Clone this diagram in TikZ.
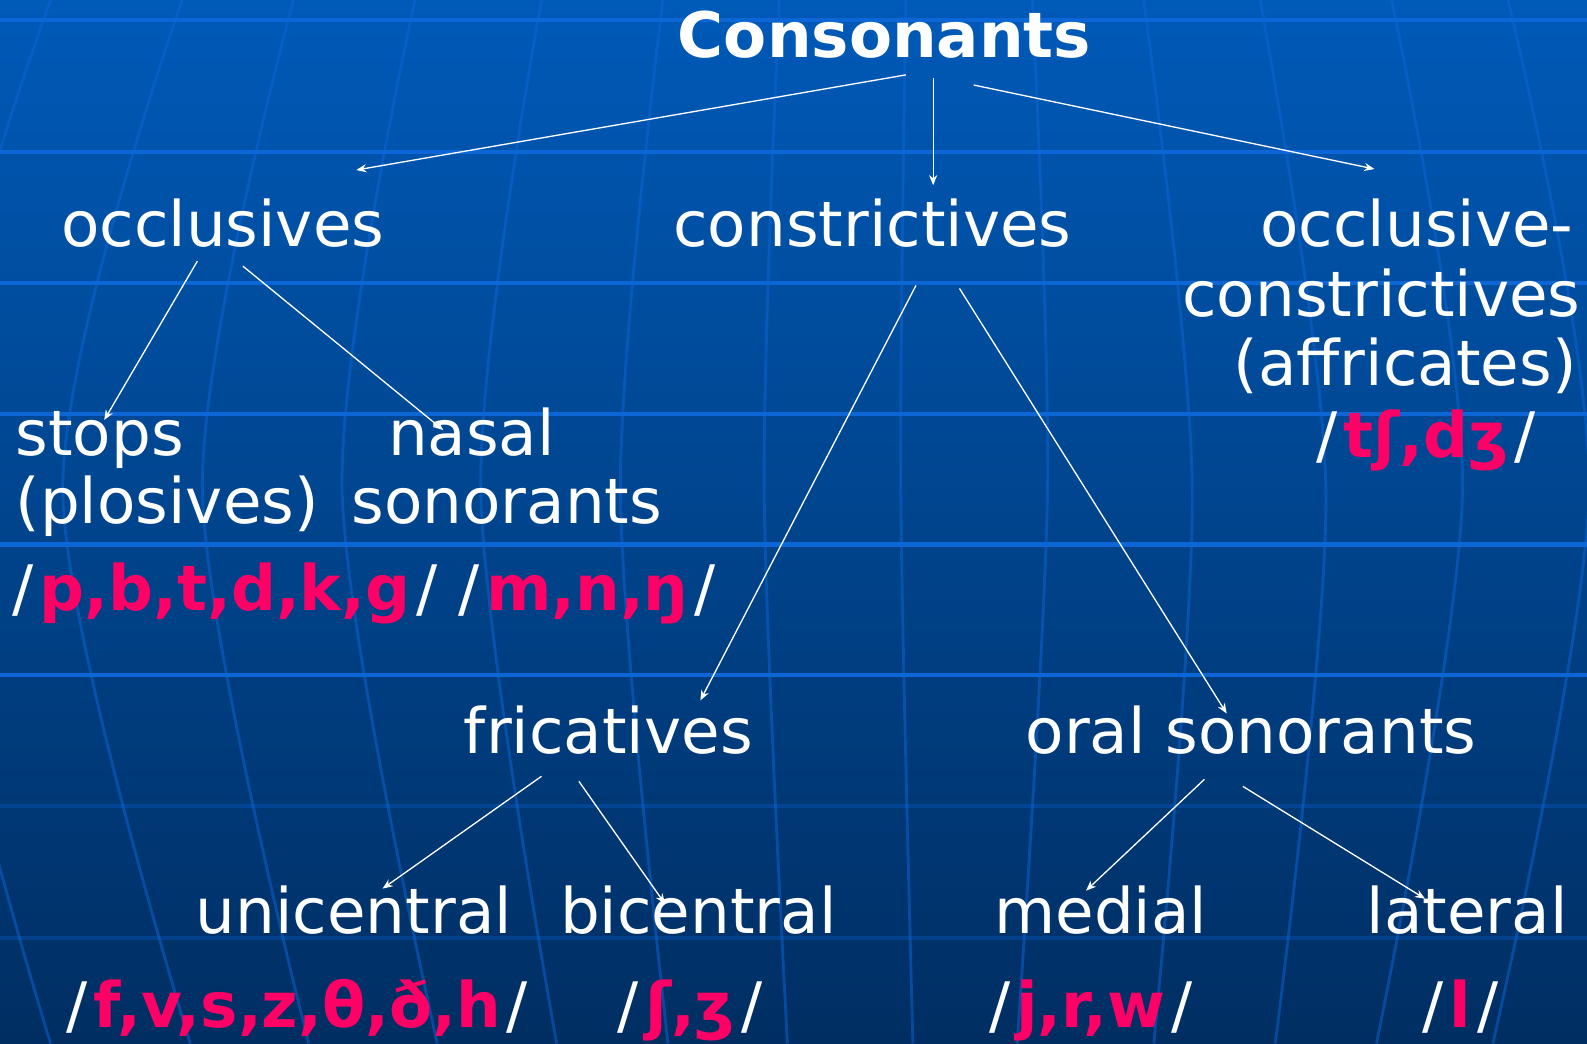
\documentclass[tikz,border=0pt]{standalone}
\usepackage{fontspec}
\setmainfont{DejaVu Sans}
\usepackage{xcolor}
\usepackage{tikz}
\usetikzlibrary{arrows.meta}

\definecolor{bgtop}{RGB}{0,90,184}
\definecolor{bgbot}{RGB}{0,46,98}
\definecolor{gridblue}{RGB}{12,102,214}
\definecolor{ipared}{RGB}{255,0,102}
\newcommand{\sounds}[1]{/\kern3pt{\bfseries\color{ipared}#1}\kern3pt/}

\begin{document}
\begin{tikzpicture}[
    x=0.5pt, y=-0.5pt,
    txt/.style={text=white, inner sep=0pt, font=\fontsize{31}{37}\selectfont},
    title/.style={txt, font=\fontsize{31}{37}\selectfont\bfseries},
    arrow/.style={-{Stealth[length=5pt,width=4pt]}, white, line width=0.65pt},
    gridline/.style={gridblue, line width=2pt},
    meridian/.style={gridblue, line width=1.4pt, opacity=0.5}
  ]
    % background with globe grid
    \useasboundingbox (0,0) rectangle (1568,1031);
    \shade[top color=bgtop, bottom color=bgbot] (0,0) rectangle (1568,1031);
    \begin{scope}
      \clip (0,0) rectangle (1568,1031);
      \foreach \xt/\xm/\xb in {50/-75/50, 180/62/188, 290/200/305, 410/338/432,
                              535/475/550, 655/613/660, 770/755/778, 895/890/902,
                              1020/1035/1005, 1130/1178/1140, 1245/1310/1260,
                              1375/1445/1360, 1490/1570/1475}
        \draw[meridian] plot[smooth] coordinates {(\xt,0) (\xm,484) (\xb,1031)};
      \foreach \y in {20,150,280,409,538,667}
        \draw[gridline] (0,\y) -- (1568,\y);
      \foreach \y in {796,927}
        \draw[gridline, opacity=0.3] (0,\y) -- (1568,\y);
    \end{scope}

    % top levels
    \node[title, anchor=base] (cons) at (874,57) {Consonants};
    \node[txt, anchor=base west] (occl) at (60,244) {occlusives};
    \node[txt, anchor=base west] (constr) at (665,244) {constrictives};
    \node[txt, anchor=base east] (affr1) at (1555,244) {occlusive-};
    \node[txt, anchor=base east] (affr2) at (1562,313) {constrictives};
    \node[txt, anchor=base east] (affr3) at (1558,381) {(affricates)};
    \node[txt, anchor=base west] (affripa) at (1300,452) {\sounds{tʃ,dʒ}};

    % occlusives
    \node[txt, anchor=base west] (stops) at (15,450) {stops};
    \node[txt, anchor=base west] (plos) at (15,517) {(plosives)};
    \node[txt, anchor=base west] (nasal) at (383,450) {nasal};
    \node[txt, anchor=base west] (nasson) at (347,517) {sonorants};
    \node[txt, anchor=base west] (stopsipa) at (12,603) {\sounds{p,b,t,d,k,g}};
    \node[txt, anchor=base west] (nasipa) at (453,603) {\sounds{m,n,ŋ}};

    % constrictives
    \node[txt, anchor=base west] (fric) at (458,744) {fricatives};
    \node[txt, anchor=base west] (oral) at (1013,744) {oral sonorants};
    \node[txt, anchor=base west] (uni) at (193,922) {unicentral};
    \node[txt, anchor=base west] (bic) at (553,922) {bicentral};
    \node[txt, anchor=base west] (med) at (982,922) {medial};
    \node[txt, anchor=base west] (lat) at (1350,922) {lateral};
    \node[txt, anchor=base west] (unipa) at (65,1015) {\sounds{f,v,s,z,θ,ð,h}};
    \node[txt, anchor=base west] (bicipa) at (610,1015) {\sounds{ʃ,ʒ}};
    \node[txt, anchor=base west] (medipa) at (977,1015) {\sounds{j,r,w}};
    \node[txt, anchor=base west] (latipa) at (1405,1015) {\sounds{l}};

    % arrows
    \draw[arrow] ([shift={(21,17)}]cons.base) -- ([shift={(292,-76)}]occl.base west);
    \draw[arrow] ([shift={(48,20)}]cons.base) -- ([shift={(257,-61)}]constr.base west);
    \draw[arrow] ([shift={(88,27)}]cons.base) -- ([shift={(-197,-77)}]affr1.base east);
    \draw[arrow] ([shift={(135,14)}]occl.base west) -- ([shift={(88,-35)}]stops.base west);
    \draw[arrow] ([shift={(180,19)}]occl.base west) -- ([shift={(55,-25)}]nasal.base west);
    \draw[arrow] ([shift={(240,38)}]constr.base west) -- ([shift={(234,-52)}]fric.base west);
    \draw[arrow] ([shift={(283,41)}]constr.base west) -- ([shift={(199,-39)}]oral.base west);
    \draw[arrow] ([shift={(77,23)}]fric.base west) -- ([shift={(185,-44)}]uni.base west);
    \draw[arrow] ([shift={(114,28)}]fric.base west) -- ([shift={(104,-29)}]bic.base west);
    \draw[arrow] ([shift={(177,26)}]oral.base west) -- ([shift={(91,-42)}]med.base west);
    \draw[arrow] ([shift={(215,33)}]oral.base west) -- ([shift={(58,-34)}]lat.base west);
\end{tikzpicture}
\end{document}
